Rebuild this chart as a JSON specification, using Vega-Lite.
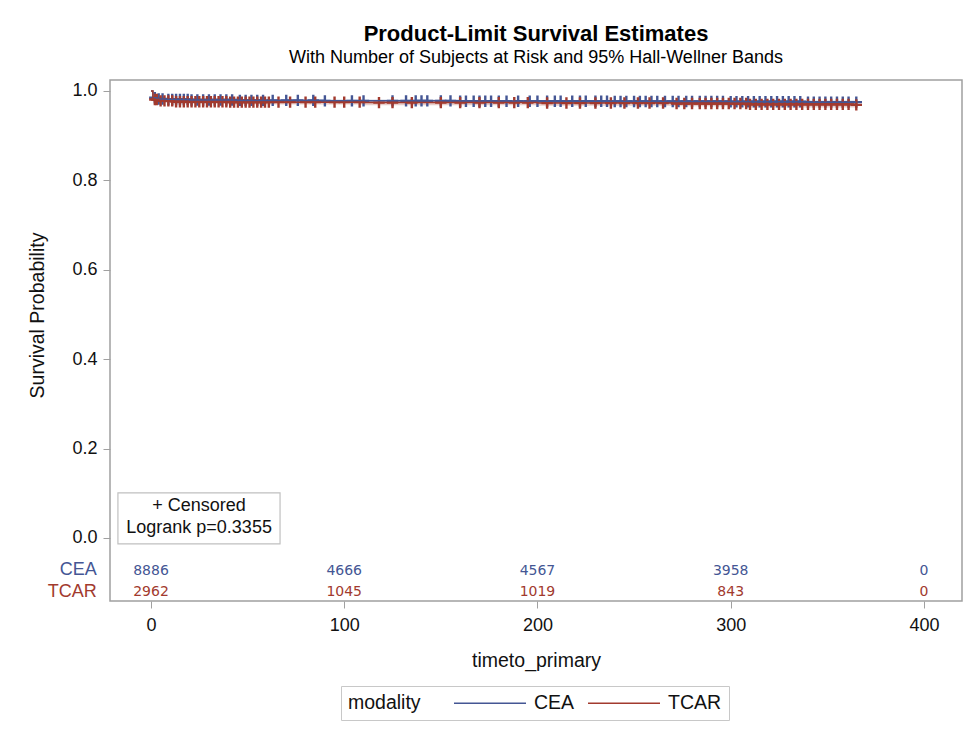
{
  "$schema": "https://vega.github.io/schema/vega-lite/v6.json",
  "width": 852,
  "height": 521,
  "autosize": {"type": "none"},
  "padding": {"left": 110, "top": 80, "right": 8, "bottom": 128},
  "background": "white",
  "title": {
    "text": "Product-Limit Survival Estimates",
    "subtitle": "With Number of Subjects at Risk and 95% Hall-Wellner Bands",
    "anchor": "middle",
    "font": "Liberation Sans",
    "fontSize": 22,
    "fontWeight": "bold",
    "color": "#000000",
    "subtitleFont": "Liberation Sans",
    "subtitleFontSize": 18,
    "subtitleColor": "#000000",
    "subtitlePadding": 3,
    "offset": 12
  },
  "config": {
    "font": "Liberation Sans",
    "view": {"stroke": "#a0a0a0", "strokeWidth": 1.5},
    "axis": {"grid": false, "domain": false, "tickColor": "#a0a0a0", "tickSize": 7, "labelFont": "Liberation Sans", "labelFontSize": 18, "labelColor": "#111111", "titleFont": "Liberation Sans", "titleFontSize": 19.5, "titleFontWeight": "normal", "titleColor": "#111111"}
  },
  "datasets": {
    "curve": [
      {"g": "CEA", "t": 0, "s": 1.0, "lo": 1.0, "hi": 1.0},
      {"g": "CEA", "t": 1, "s": 0.985, "lo": 0.982, "hi": 0.988},
      {"g": "CEA", "t": 3, "s": 0.982, "lo": 0.979, "hi": 0.985},
      {"g": "CEA", "t": 8, "s": 0.981, "lo": 0.978, "hi": 0.984},
      {"g": "CEA", "t": 20, "s": 0.980, "lo": 0.977, "hi": 0.983},
      {"g": "CEA", "t": 45, "s": 0.979, "lo": 0.976, "hi": 0.982},
      {"g": "CEA", "t": 90, "s": 0.978, "lo": 0.975, "hi": 0.981},
      {"g": "CEA", "t": 160, "s": 0.977, "lo": 0.974, "hi": 0.980},
      {"g": "CEA", "t": 240, "s": 0.9765, "lo": 0.973, "hi": 0.980},
      {"g": "CEA", "t": 300, "s": 0.976, "lo": 0.972, "hi": 0.980},
      {"g": "CEA", "t": 340, "s": 0.975, "lo": 0.971, "hi": 0.979},
      {"g": "CEA", "t": 365, "s": 0.975, "lo": 0.971, "hi": 0.979},
      {"g": "TCAR", "t": 0, "s": 1.0, "lo": 1.0, "hi": 1.0},
      {"g": "TCAR", "t": 1, "s": 0.981, "lo": 0.976, "hi": 0.986},
      {"g": "TCAR", "t": 4, "s": 0.978, "lo": 0.973, "hi": 0.983},
      {"g": "TCAR", "t": 12, "s": 0.976, "lo": 0.971, "hi": 0.981},
      {"g": "TCAR", "t": 40, "s": 0.975, "lo": 0.970, "hi": 0.980},
      {"g": "TCAR", "t": 110, "s": 0.974, "lo": 0.968, "hi": 0.980},
      {"g": "TCAR", "t": 200, "s": 0.973, "lo": 0.967, "hi": 0.979},
      {"g": "TCAR", "t": 270, "s": 0.972, "lo": 0.966, "hi": 0.978},
      {"g": "TCAR", "t": 310, "s": 0.970, "lo": 0.963, "hi": 0.977},
      {"g": "TCAR", "t": 365, "s": 0.969, "lo": 0.962, "hi": 0.976}
    ],
    "censor": [
      {"g": "CEA", "t": 2, "s": 0.985}, {"g": "CEA", "t": 4, "s": 0.982}, {"g": "CEA", "t": 6, "s": 0.982},
      {"g": "CEA", "t": 9, "s": 0.981}, {"g": "CEA", "t": 11, "s": 0.981}, {"g": "CEA", "t": 13, "s": 0.981}, {"g": "CEA", "t": 15, "s": 0.981}, {"g": "CEA", "t": 17, "s": 0.981}, {"g": "CEA", "t": 19, "s": 0.981},
      {"g": "CEA", "t": 21, "s": 0.980}, {"g": "CEA", "t": 24, "s": 0.980}, {"g": "CEA", "t": 27, "s": 0.980}, {"g": "CEA", "t": 30, "s": 0.980}, {"g": "CEA", "t": 33, "s": 0.980}, {"g": "CEA", "t": 36, "s": 0.980}, {"g": "CEA", "t": 39, "s": 0.980}, {"g": "CEA", "t": 42, "s": 0.980},
      {"g": "CEA", "t": 46, "s": 0.979}, {"g": "CEA", "t": 49, "s": 0.979}, {"g": "CEA", "t": 52, "s": 0.979}, {"g": "CEA", "t": 55, "s": 0.979}, {"g": "CEA", "t": 58, "s": 0.979}, {"g": "CEA", "t": 63, "s": 0.979}, {"g": "CEA", "t": 70, "s": 0.979}, {"g": "CEA", "t": 76, "s": 0.979}, {"g": "CEA", "t": 84, "s": 0.979},
      {"g": "CEA", "t": 90, "s": 0.978}, {"g": "CEA", "t": 104, "s": 0.978}, {"g": "CEA", "t": 110, "s": 0.978}, {"g": "CEA", "t": 125, "s": 0.978}, {"g": "CEA", "t": 132, "s": 0.978}, {"g": "CEA", "t": 137, "s": 0.978}, {"g": "CEA", "t": 140, "s": 0.978}, {"g": "CEA", "t": 143, "s": 0.978}, {"g": "CEA", "t": 150, "s": 0.978}, {"g": "CEA", "t": 155, "s": 0.978},
      {"g": "CEA", "t": 160, "s": 0.977}, {"g": "CEA", "t": 163, "s": 0.977}, {"g": "CEA", "t": 167, "s": 0.977}, {"g": "CEA", "t": 170, "s": 0.977}, {"g": "CEA", "t": 173, "s": 0.977}, {"g": "CEA", "t": 176, "s": 0.977}, {"g": "CEA", "t": 180, "s": 0.977}, {"g": "CEA", "t": 184, "s": 0.977}, {"g": "CEA", "t": 190, "s": 0.977}, {"g": "CEA", "t": 196, "s": 0.977}, {"g": "CEA", "t": 200, "s": 0.977}, {"g": "CEA", "t": 205, "s": 0.977}, {"g": "CEA", "t": 209, "s": 0.977}, {"g": "CEA", "t": 212, "s": 0.977}, {"g": "CEA", "t": 218, "s": 0.977}, {"g": "CEA", "t": 222, "s": 0.977}, {"g": "CEA", "t": 225, "s": 0.977}, {"g": "CEA", "t": 230, "s": 0.977}, {"g": "CEA", "t": 233, "s": 0.977}, {"g": "CEA", "t": 236, "s": 0.977},
      {"g": "CEA", "t": 240, "s": 0.9765}, {"g": "CEA", "t": 243, "s": 0.9765}, {"g": "CEA", "t": 246, "s": 0.9765}, {"g": "CEA", "t": 250, "s": 0.9765}, {"g": "CEA", "t": 253, "s": 0.9765}, {"g": "CEA", "t": 256, "s": 0.9765}, {"g": "CEA", "t": 259, "s": 0.9765}, {"g": "CEA", "t": 262, "s": 0.9765}, {"g": "CEA", "t": 266, "s": 0.9765}, {"g": "CEA", "t": 270, "s": 0.9765}, {"g": "CEA", "t": 273, "s": 0.9765}, {"g": "CEA", "t": 277, "s": 0.9765}, {"g": "CEA", "t": 280, "s": 0.9765}, {"g": "CEA", "t": 284, "s": 0.9765}, {"g": "CEA", "t": 287, "s": 0.9765}, {"g": "CEA", "t": 290, "s": 0.9765}, {"g": "CEA", "t": 293, "s": 0.9765}, {"g": "CEA", "t": 296, "s": 0.9765},
      {"g": "CEA", "t": 300, "s": 0.976}, {"g": "CEA", "t": 303, "s": 0.976}, {"g": "CEA", "t": 306, "s": 0.976}, {"g": "CEA", "t": 309, "s": 0.976}, {"g": "CEA", "t": 312, "s": 0.976}, {"g": "CEA", "t": 315, "s": 0.976}, {"g": "CEA", "t": 318, "s": 0.976}, {"g": "CEA", "t": 321, "s": 0.976}, {"g": "CEA", "t": 324, "s": 0.976}, {"g": "CEA", "t": 327, "s": 0.976}, {"g": "CEA", "t": 330, "s": 0.976}, {"g": "CEA", "t": 333, "s": 0.976}, {"g": "CEA", "t": 336, "s": 0.976},
      {"g": "CEA", "t": 340, "s": 0.975}, {"g": "CEA", "t": 343, "s": 0.975}, {"g": "CEA", "t": 346, "s": 0.975}, {"g": "CEA", "t": 349, "s": 0.975}, {"g": "CEA", "t": 352, "s": 0.975}, {"g": "CEA", "t": 355, "s": 0.975}, {"g": "CEA", "t": 358, "s": 0.975}, {"g": "CEA", "t": 361, "s": 0.975}, {"g": "CEA", "t": 365, "s": 0.975},
      {"g": "TCAR", "t": 2, "s": 0.981}, {"g": "TCAR", "t": 3, "s": 0.981},
      {"g": "TCAR", "t": 5, "s": 0.978}, {"g": "TCAR", "t": 7, "s": 0.978}, {"g": "TCAR", "t": 9, "s": 0.978}, {"g": "TCAR", "t": 11, "s": 0.978},
      {"g": "TCAR", "t": 13, "s": 0.976}, {"g": "TCAR", "t": 15, "s": 0.976}, {"g": "TCAR", "t": 17, "s": 0.976}, {"g": "TCAR", "t": 19, "s": 0.976}, {"g": "TCAR", "t": 21, "s": 0.976}, {"g": "TCAR", "t": 23, "s": 0.976}, {"g": "TCAR", "t": 25, "s": 0.976}, {"g": "TCAR", "t": 27, "s": 0.976}, {"g": "TCAR", "t": 29, "s": 0.976}, {"g": "TCAR", "t": 31, "s": 0.976}, {"g": "TCAR", "t": 33, "s": 0.976}, {"g": "TCAR", "t": 35, "s": 0.976}, {"g": "TCAR", "t": 37, "s": 0.976}, {"g": "TCAR", "t": 39, "s": 0.976},
      {"g": "TCAR", "t": 41, "s": 0.975}, {"g": "TCAR", "t": 43, "s": 0.975}, {"g": "TCAR", "t": 45, "s": 0.975}, {"g": "TCAR", "t": 47, "s": 0.975}, {"g": "TCAR", "t": 49, "s": 0.975}, {"g": "TCAR", "t": 51, "s": 0.975}, {"g": "TCAR", "t": 53, "s": 0.975}, {"g": "TCAR", "t": 55, "s": 0.975}, {"g": "TCAR", "t": 57, "s": 0.975}, {"g": "TCAR", "t": 59, "s": 0.975}, {"g": "TCAR", "t": 61, "s": 0.975}, {"g": "TCAR", "t": 66, "s": 0.975}, {"g": "TCAR", "t": 72, "s": 0.975}, {"g": "TCAR", "t": 80, "s": 0.975}, {"g": "TCAR", "t": 85, "s": 0.975}, {"g": "TCAR", "t": 95, "s": 0.975}, {"g": "TCAR", "t": 100, "s": 0.975}, {"g": "TCAR", "t": 108, "s": 0.975},
      {"g": "TCAR", "t": 118, "s": 0.974}, {"g": "TCAR", "t": 125, "s": 0.974}, {"g": "TCAR", "t": 135, "s": 0.974}, {"g": "TCAR", "t": 150, "s": 0.974}, {"g": "TCAR", "t": 160, "s": 0.974}, {"g": "TCAR", "t": 170, "s": 0.974}, {"g": "TCAR", "t": 180, "s": 0.974}, {"g": "TCAR", "t": 188, "s": 0.974}, {"g": "TCAR", "t": 195, "s": 0.974},
      {"g": "TCAR", "t": 205, "s": 0.973}, {"g": "TCAR", "t": 215, "s": 0.973}, {"g": "TCAR", "t": 222, "s": 0.973}, {"g": "TCAR", "t": 230, "s": 0.973}, {"g": "TCAR", "t": 238, "s": 0.973}, {"g": "TCAR", "t": 245, "s": 0.973}, {"g": "TCAR", "t": 252, "s": 0.973}, {"g": "TCAR", "t": 258, "s": 0.973}, {"g": "TCAR", "t": 265, "s": 0.973},
      {"g": "TCAR", "t": 272, "s": 0.972}, {"g": "TCAR", "t": 276, "s": 0.972}, {"g": "TCAR", "t": 280, "s": 0.972}, {"g": "TCAR", "t": 284, "s": 0.972}, {"g": "TCAR", "t": 287, "s": 0.972}, {"g": "TCAR", "t": 290, "s": 0.972}, {"g": "TCAR", "t": 293, "s": 0.972}, {"g": "TCAR", "t": 296, "s": 0.972}, {"g": "TCAR", "t": 299, "s": 0.972}, {"g": "TCAR", "t": 302, "s": 0.972}, {"g": "TCAR", "t": 305, "s": 0.972}, {"g": "TCAR", "t": 308, "s": 0.972},
      {"g": "TCAR", "t": 310, "s": 0.970}, {"g": "TCAR", "t": 313, "s": 0.970}, {"g": "TCAR", "t": 316, "s": 0.970}, {"g": "TCAR", "t": 319, "s": 0.970}, {"g": "TCAR", "t": 322, "s": 0.970}, {"g": "TCAR", "t": 325, "s": 0.970}, {"g": "TCAR", "t": 328, "s": 0.970}, {"g": "TCAR", "t": 331, "s": 0.970}, {"g": "TCAR", "t": 334, "s": 0.970}, {"g": "TCAR", "t": 337, "s": 0.970}, {"g": "TCAR", "t": 340, "s": 0.970}, {"g": "TCAR", "t": 343, "s": 0.970}, {"g": "TCAR", "t": 346, "s": 0.970}, {"g": "TCAR", "t": 349, "s": 0.970}, {"g": "TCAR", "t": 352, "s": 0.970}, {"g": "TCAR", "t": 355, "s": 0.970}, {"g": "TCAR", "t": 358, "s": 0.970}, {"g": "TCAR", "t": 361, "s": 0.970}, {"g": "TCAR", "t": 365, "s": 0.969}
    ],
    "risk": [
      {"g": "CEA", "t": 0, "n": 8886}, {"g": "CEA", "t": 100, "n": 4666}, {"g": "CEA", "t": 200, "n": 4567}, {"g": "CEA", "t": 300, "n": 3958}, {"g": "CEA", "t": 400, "n": 0},
      {"g": "TCAR", "t": 0, "n": 2962}, {"g": "TCAR", "t": 100, "n": 1045}, {"g": "TCAR", "t": 200, "n": 1019}, {"g": "TCAR", "t": 300, "n": 843}, {"g": "TCAR", "t": 400, "n": 0}
    ],
    "groups": [{"g": "CEA"}, {"g": "TCAR"}],
    "inset": [{"line1": "+ Censored", "line2": "Logrank p=0.3355"}]
  },
  "layer": [
    {
      "data": {"name": "curve"},
      "mark": {"type": "area", "interpolate": "step-after", "opacity": 0.25},
      "encoding": {
        "x": {"field": "t", "type": "quantitative", "scale": {"domain": [-21.2, 419.7], "nice": false, "zero": false}, "axis": {"values": [0, 100, 200, 300, 400], "title": "timeto_primary", "labelPadding": 8, "titlePadding": 17}},
        "y": {"field": "lo", "type": "quantitative", "scale": {"domain": [-0.141, 1.0246], "nice": false, "zero": false}, "axis": {"values": [0, 0.2, 0.4, 0.6, 0.8, 1.0], "format": ".1f", "title": "Survival Probability", "labelPadding": 6, "titlePadding": 24, "titleY": 235}},
        "y2": {"field": "hi"},
        "color": {
          "field": "g", "type": "nominal",
          "scale": {"domain": ["CEA", "TCAR"], "range": ["#445694", "#A23A2E"]},
          "legend": {"orient": "none", "legendX": 231, "legendY": 606, "direction": "horizontal", "title": "modality", "titleOrient": "left", "titleFontSize": 19.5, "titleFontWeight": "normal", "titleColor": "#111111", "titlePadding": 59, "titleAnchor": "middle", "titleBaseline": "middle", "labelFontSize": 19.5, "labelColor": "#111111", "symbolType": "M-4,0L4,0", "symbolSize": 324, "symbolStrokeWidth": 1.5, "symbolOpacity": 1, "symbolFillColor": "transparent", "columnPadding": 10, "labelOffset": 34, "strokeColor": "#c8c8c8", "padding": 7}
        }
      }
    },
    {
      "data": {"name": "censor"},
      "mark": {"type": "point", "shape": "M-1,0L1,0M0,-1L0,1", "filled": false, "strokeWidth": 2.4, "size": 130, "opacity": 1},
      "encoding": {
        "x": {"field": "t", "type": "quantitative"},
        "y": {"field": "s", "type": "quantitative"},
        "color": {"field": "g", "type": "nominal"}
      }
    },
    {
      "data": {"name": "curve"},
      "mark": {"type": "line", "interpolate": "step-after", "strokeWidth": 1.5},
      "encoding": {
        "x": {"field": "t", "type": "quantitative"},
        "y": {"field": "s", "type": "quantitative"},
        "color": {"field": "g", "type": "nominal"}
      }
    },
    {
      "data": {"name": "risk"},
      "transform": [{"filter": "datum.g === 'CEA'"}],
      "mark": {"type": "text", "font": "DejaVu Sans", "fontSize": 14, "baseline": "middle", "align": "center"},
      "encoding": {
        "x": {"field": "t", "type": "quantitative"},
        "y": {"datum": -0.074},
        "text": {"field": "n", "type": "quantitative"},
        "color": {"field": "g", "type": "nominal"}
      }
    },
    {
      "data": {"name": "risk"},
      "transform": [{"filter": "datum.g === 'TCAR'"}],
      "mark": {"type": "text", "font": "DejaVu Sans", "fontSize": 14, "baseline": "middle", "align": "center"},
      "encoding": {
        "x": {"field": "t", "type": "quantitative"},
        "y": {"datum": -0.121},
        "text": {"field": "n", "type": "quantitative"},
        "color": {"field": "g", "type": "nominal"}
      }
    },
    {
      "data": {"name": "groups"},
      "transform": [{"filter": "datum.g === 'CEA'"}],
      "mark": {"type": "text", "fontSize": 18, "baseline": "middle", "align": "right"},
      "encoding": {
        "x": {"datum": -28},
        "y": {"datum": -0.072},
        "text": {"field": "g", "type": "nominal"},
        "color": {"field": "g", "type": "nominal"}
      }
    },
    {
      "data": {"name": "groups"},
      "transform": [{"filter": "datum.g === 'TCAR'"}],
      "mark": {"type": "text", "fontSize": 18, "baseline": "middle", "align": "right"},
      "encoding": {
        "x": {"datum": -28},
        "y": {"datum": -0.120},
        "text": {"field": "g", "type": "nominal"},
        "color": {"field": "g", "type": "nominal"}
      }
    },
    {
      "data": {"name": "inset"},
      "mark": {"type": "rect", "fill": "white", "stroke": "#c0c0c0", "strokeWidth": 1.2},
      "encoding": {
        "x": {"datum": -17.1},
        "x2": {"datum": 66.8},
        "y": {"datum": 0.1007},
        "y2": {"datum": -0.0134}
      }
    },
    {
      "data": {"name": "inset"},
      "mark": {"type": "text", "fontSize": 18, "baseline": "middle", "align": "center", "color": "#111111"},
      "encoding": {
        "x": {"datum": 24.9},
        "y": {"datum": 0.0716},
        "text": {"field": "line1", "type": "nominal"}
      }
    },
    {
      "data": {"name": "inset"},
      "mark": {"type": "text", "fontSize": 18, "baseline": "middle", "align": "center", "color": "#111111"},
      "encoding": {
        "x": {"datum": 24.9},
        "y": {"datum": 0.0224},
        "text": {"field": "line2", "type": "nominal"}
      }
    }
  ]
}
